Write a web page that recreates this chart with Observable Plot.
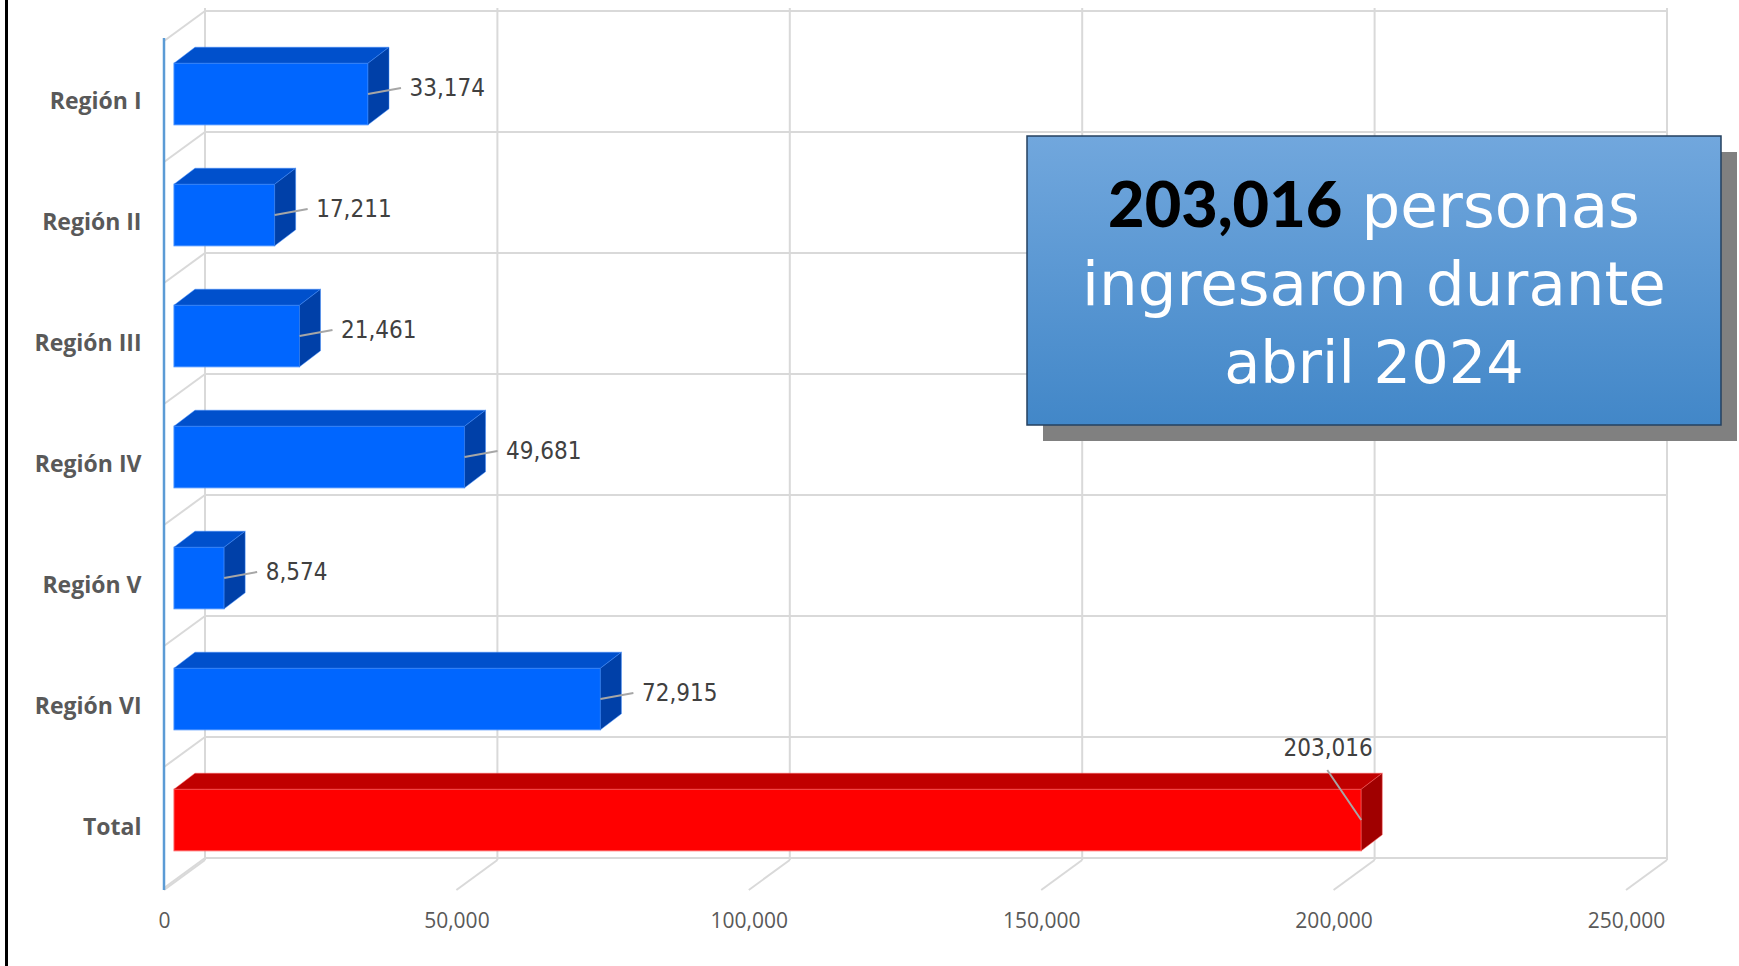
<!DOCTYPE html>
<html>
<head>
<meta charset="utf-8">
<script src="https://cdn.jsdelivr.net/npm/d3@7"></script>
<script src="https://cdn.jsdelivr.net/npm/@observablehq/plot@0.6"></script>
<style>
  html, body { margin: 0; padding: 0; background: #ffffff; }
  #chart { width: 1739px; height: 966px; overflow: hidden; }
</style>
</head>
<body>
<div id="chart"></div>
<script>
// ---------- data ----------
const categories = ["Región I", "Región II", "Región III", "Región IV", "Región V", "Región VI", "Total"];
const values = [33174, 17211, 21461, 49681, 8574, 72915, 203016];
const xTicks = [0, 50000, 100000, 150000, 200000, 250000];
const highlightCategory = "Total";
const headlineNumber = "203,016";
const headlineRest = " personas";
const headlineLines = ["ingresaron durante", "abril 2024"];

const rows = categories.map((category, i) => ({category, value: values[i], highlight: category === highlightCategory}));

// ---------- styling / layout ----------
const W = 1739, H = 966;
const DEPTH_X = 41, DEPTH_Y = 30;      // back wall offset of the 3D box
const FACE_DX = 10, FACE_DY = -7.5;    // bar front face offset
const BAR_DX = 21, BAR_DY = 16;        // bar depth
const INSET = 29.7;
const GRID = "#d9d9d9";
const BLUE = {front: "#0066ff", top: "#0050cc", side: "#0040a8", edge: "#3d8bff"};
const RED = {front: "#ff0000", top: "#c00000", side: "#a00000", edge: "#ff5a5a"};
const LABEL_FONT = "'DejaVu Sans Condensed', 'DejaVu Sans', sans-serif";
const fmt = d3.format(",");

function bandwidthOf(s) { return typeof s.bandwidth === "function" ? s.bandwidth() : s.bandwidth; }

function addLine(g, x1, y1, x2, y2, stroke, width) {
  g.append("line").attr("x1", x1).attr("y1", y1).attr("x2", x2).attr("y2", y2)
    .attr("stroke", stroke).attr("stroke-width", width).attr("stroke-linecap", "butt");
}

// back wall, side wall, floor diagonals, axis line, page border
function wallsMark(index, scales, vals, dims) {
  const {x, y} = scales;
  const b = bandwidthOf(y);
  const g = d3.create("svg:g");
  const top = dims.marginTop, bottom = dims.height - dims.marginBottom;
  const bounds = categories.map(c => y(c)).concat([y(categories[categories.length - 1]) + b]);
  const xb0 = x(xTicks[0]) + DEPTH_X, xb1 = x(xTicks[xTicks.length - 1]) + DEPTH_X;
  for (const yy of bounds) {
    addLine(g, xb0, yy - DEPTH_Y, xb1, yy - DEPTH_Y, GRID, 2);
    addLine(g, x(0), yy, xb0, yy - DEPTH_Y, GRID, 2);
  }
  for (const t of xTicks) {
    addLine(g, x(t) + DEPTH_X, top - DEPTH_Y, x(t) + DEPTH_X, bottom - DEPTH_Y, GRID, 2);
    addLine(g, x(t) + DEPTH_X, bottom - DEPTH_Y, x(t), bottom, GRID, 2);
  }
  addLine(g, x(0), top, x(0), bottom, "#5b9bd5", 2.5);
  addLine(g, 6.5, 0, 6.5, dims.height, "#000000", 3);
  return g.node();
}

// top and side faces of the 3D bars
function barDepthMark(index, scales, vals, dims) {
  const {x, y} = scales;
  const b = bandwidthOf(y);
  const g = d3.create("svg:g");
  for (const d of rows) {
    const pal = d.highlight ? RED : BLUE;
    const x0 = x(0) + FACE_DX, x1 = x(d.value) + FACE_DX;
    const yt = y(d.category) + INSET + FACE_DY, yb = y(d.category) + b - INSET + FACE_DY;
    const topPts = [[x0, yt], [x1, yt], [x1 + BAR_DX, yt - BAR_DY], [x0 + BAR_DX, yt - BAR_DY]];
    const sidePts = [[x1, yt], [x1 + BAR_DX, yt - BAR_DY], [x1 + BAR_DX, yb - BAR_DY], [x1, yb]];
    g.append("polygon").attr("points", topPts.map(p => p.join(",")).join(" "))
      .attr("fill", pal.top).attr("stroke", pal.edge).attr("stroke-width", 0.8).attr("stroke-opacity", 0.6);
    g.append("polygon").attr("points", sidePts.map(p => p.join(",")).join(" "))
      .attr("fill", pal.side).attr("stroke", pal.edge).attr("stroke-width", 0.8).attr("stroke-opacity", 0.6);
  }
  return g.node();
}

// leader lines from bar ends to value labels
function leaderMark(index, scales, vals, dims) {
  const {x, y} = scales;
  const b = bandwidthOf(y);
  const g = d3.create("svg:g");
  for (const d of rows) {
    const xe = x(d.value) + FACE_DX;
    const yc = y(d.category) + b / 2 + FACE_DY;
    if (d.highlight) addLine(g, xe, yc, xe - 34, yc - 50, "#a6a6a6", 2);
    else addLine(g, xe, yc, xe + 33, yc - 6, "#a6a6a6", 2);
  }
  return g.node();
}

// headline box
function headlineMark(index, scales, vals, dims) {
  const g = d3.create("svg:g");
  const bx = 1027, by = 136, bw = 694, bh = 289;
  const defs = g.append("defs");
  const grad = defs.append("linearGradient").attr("id", "boxgrad").attr("x1", 0).attr("y1", 0).attr("x2", 0).attr("y2", 1);
  grad.append("stop").attr("offset", "0%").attr("stop-color", "#71a7dd");
  grad.append("stop").attr("offset", "100%").attr("stop-color", "#4287c8");
  g.append("rect").attr("x", bx + 16).attr("y", by + 16).attr("width", bw).attr("height", bh).attr("fill", "#808080");
  g.append("rect").attr("x", bx).attr("y", by).attr("width", bw).attr("height", bh)
    .attr("fill", "url(#boxgrad)").attr("stroke", "#24405f").attr("stroke-width", 1.5);
  const cx = bx + bw / 2;
  const t1 = g.append("text").attr("x", cx).attr("y", 227).attr("text-anchor", "middle")
    .style("font-family", "'DejaVu Sans', sans-serif").style("font-size", "61px");
  t1.append("tspan").text(headlineNumber).attr("fill", "#000000")
    .style("font-family", "Lato, 'Open Sans', sans-serif").style("font-weight", "900").style("font-size", "63px");
  t1.append("tspan").text(headlineRest).attr("fill", "#ffffff");
  headlineLines.forEach((line, i) => {
    g.append("text").attr("x", cx).attr("y", 305 + 78 * i).attr("text-anchor", "middle")
      .attr("fill", "#ffffff").style("font-family", "'DejaVu Sans', sans-serif")
      .style("font-size", i === 1 ? "59px" : "61px")
      .text(line);
  });
  return g.node();
}

const chart = Plot.plot({
  width: W,
  height: H,
  marginLeft: 164,
  marginRight: 113,
  marginTop: 38,
  marginBottom: 76,
  style: {background: "#ffffff", fontFamily: "'Open Sans', sans-serif", overflow: "visible"},
  x: {domain: [xTicks[0], xTicks[xTicks.length - 1]], axis: null},
  y: {domain: categories, padding: 0, axis: null},
  marks: [
    wallsMark,
    Plot.barX(rows, {
      y: "category", x: "value",
      fill: d => d.highlight ? RED.front : BLUE.front,
      stroke: d => d.highlight ? RED.edge : BLUE.edge,
      strokeWidth: 1,
      insetTop: INSET, insetBottom: INSET,
      dx: FACE_DX, dy: FACE_DY
    }),
    barDepthMark,
    leaderMark,
    Plot.text(rows.filter(d => !d.highlight), {
      x: "value", y: "category", text: d => fmt(d.value),
      textAnchor: "start", dx: FACE_DX + 41, dy: FACE_DY - 6,
      fill: "#404040", fontSize: 24, fontFamily: LABEL_FONT
    }),
    Plot.text(rows.filter(d => d.highlight), {
      x: "value", y: "category", text: d => fmt(d.value),
      textAnchor: "end", dx: FACE_DX + 11, dy: FACE_DY - 72,
      fill: "#404040", fontSize: 24, fontFamily: LABEL_FONT
    }),
    Plot.text(categories, {
      y: d => d, text: d => d, frameAnchor: "left", textAnchor: "end", dx: -23,
      fill: "#595959", fontSize: 23, fontWeight: "bold", fontFamily: "'Open Sans', sans-serif"
    }),
    Plot.text(xTicks, {
      x: d => d, text: d => fmt(d), frameAnchor: "bottom", dy: 37,
      fill: "#595959", fontSize: 21, fontFamily: "'Open Sans', sans-serif"
    }),
    headlineMark
  ]
});

document.getElementById("chart").appendChild(chart);
</script>
</body>
</html>
